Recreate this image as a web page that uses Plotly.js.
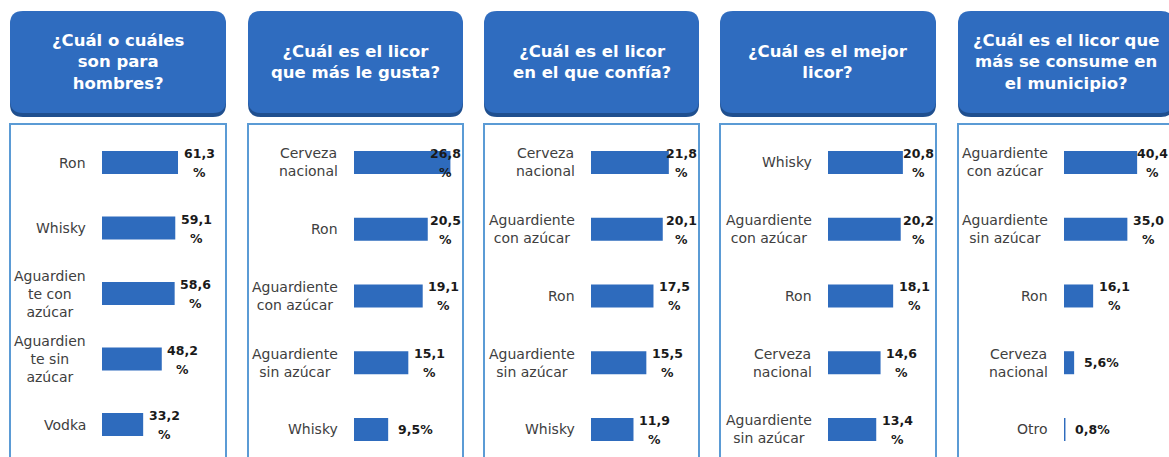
<!DOCTYPE html>
<html>
<head>
<meta charset="utf-8">
<script src="https://cdn.plot.ly/plotly-3.0.1.min.js"></script>
<style>html,body{margin:0;padding:0;background:#fff;}#chart{width:1169px;height:457px;}</style>
</head>
<body>
<div id="chart"></div>
<script>
// ---- data ----
const titles = [
  "¿Cuál o cuáles<br>son para<br>hombres?",
  "¿Cuál es el licor<br>que más le gusta?",
  "¿Cuál es el licor<br>en el que confía?",
  "¿Cuál es el mejor<br>licor?",
  "¿Cuál es el licor que<br>más se consume en<br>el municipio?"
];
const cats1 = ["Ron", "Whisky", "Aguardien<br>te con<br>azúcar", "Aguardien<br>te sin<br>azúcar", "Vodka"];
const vals1 = [61.3, 59.1, 58.6, 48.2, 33.2];
const cats2 = ["Cerveza<br>nacional", "Ron", "Aguardiente<br>con azúcar", "Aguardiente<br>sin azúcar", "Whisky"];
const vals2 = [26.8, 20.5, 19.1, 15.1, 9.5];
const cats3 = ["Cerveza<br>nacional", "Aguardiente<br>con azúcar", "Ron", "Aguardiente<br>sin azúcar", "Whisky"];
const vals3 = [21.8, 20.1, 17.5, 15.5, 11.9];
const cats4 = ["Whisky", "Aguardiente<br>con azúcar", "Ron", "Cerveza<br>nacional", "Aguardiente<br>sin azúcar"];
const vals4 = [20.8, 20.2, 18.1, 14.6, 13.4];
const cats5 = ["Aguardiente<br>con azúcar", "Aguardiente<br>sin azúcar", "Ron", "Cerveza<br>nacional", "Otro"];
const vals5 = [40.4, 35.0, 16.1, 5.6, 0.8];

const allCats = [cats1, cats2, cats3, cats4, cats5];
const allVals = [vals1, vals2, vals3, vals4, vals5];

// ---- geometry (pixels) ----
const W = 1169, H = 457;
const X = px => px / W;
const Y = py => (H - py) / H;
const geo = [
  {left: 10,  right: 226,  barL: 102,  xmax: 100,   top: 129.75, pitch: 65.5},
  {left: 248, right: 463,  barL: 354,  xmax: 30.3,  top: 129.1,  pitch: 66.75},
  {left: 484, right: 699,  barL: 591,  xmax: 30.25, top: 129.1,  pitch: 66.75},
  {left: 720, right: 936,  barL: 828,  xmax: 30,    top: 129.1,  pitch: 66.75},
  {left: 958, right: 1174, barL: 1064, xmax: 58,    top: 129.1,  pitch: 66.75}
];
const BLUE = "#2e6bbd";
const fmt = v => v.toFixed(1).replace(".", ",");

const data = [];
const layout = {
  width: W, height: H,
  margin: {l: 0, r: 0, t: 0, b: 0},
  paper_bgcolor: "#ffffff", plot_bgcolor: "rgba(0,0,0,0)",
  showlegend: false,
  shapes: [], annotations: []
};

function rrPath(x0, y0, x1, y1, r) {
  return "M" + X(x0 + r) + "," + Y(y0) +
    " L" + X(x1 - r) + "," + Y(y0) +
    " Q" + X(x1) + "," + Y(y0) + " " + X(x1) + "," + Y(y0 + r) +
    " L" + X(x1) + "," + Y(y1 - r) +
    " Q" + X(x1) + "," + Y(y1) + " " + X(x1 - r) + "," + Y(y1) +
    " L" + X(x0 + r) + "," + Y(y1) +
    " Q" + X(x0) + "," + Y(y1) + " " + X(x0) + "," + Y(y1 - r) +
    " L" + X(x0) + "," + Y(y0 + r) +
    " Q" + X(x0) + "," + Y(y0) + " " + X(x0 + r) + "," + Y(y0) + " Z";
}

geo.forEach((g, i) => {
  const n = i + 1;
  const xa = n === 1 ? "x" : "x" + n;
  const ya = n === 1 ? "y" : "y" + n;
  const xk = n === 1 ? "xaxis" : "xaxis" + n;
  const yk = n === 1 ? "yaxis" : "yaxis" + n;
  const cats = allCats[i], vals = allVals[i];
  const domR = Math.min(g.right, W);
  const scale = (domR - g.barL) / g.xmax;
  const yBottomIdx = -0.5 + (H - g.top) / g.pitch;

  layout[xk] = {domain: [X(g.barL), X(domR)], range: [0, g.xmax], anchor: ya,
    showgrid: false, zeroline: false, showticklabels: false, showline: false, ticks: "", fixedrange: true};
  layout[yk] = {domain: [0, Y(g.top)], type: "category", categoryorder: "array", categoryarray: cats,
    range: [yBottomIdx, -0.5], anchor: xa,
    showgrid: false, zeroline: false, showticklabels: false, showline: false, ticks: "", fixedrange: true};

  data.push({
    type: "bar", orientation: "h", x: vals, y: cats, xaxis: xa, yaxis: ya,
    width: 23 / g.pitch, marker: {color: BLUE, line: {width: 0}}, hoverinfo: "skip"
  });

  // header box with darker bottom edge
  layout.shapes.push({type: "path", xref: "paper", yref: "paper", layer: "below",
    path: rrPath(g.left, 13, g.right, 117, 13), fillcolor: "#1f4f8f", line: {width: 0}});
  layout.shapes.push({type: "path", xref: "paper", yref: "paper", layer: "below",
    path: rrPath(g.left, 11, g.right, 113, 13), fillcolor: "#2f6cbf", line: {width: 0}});
  // body frame
  layout.shapes.push({type: "rect", xref: "paper", yref: "paper", layer: "below",
    x0: X(g.left), x1: X(g.right), y0: Y(124), y1: Y(480),
    fillcolor: "rgba(0,0,0,0)", line: {color: "#5b9bd5", width: 2}});

  // header title
  layout.annotations.push({xref: "paper", yref: "paper", x: X((g.left + g.right) / 2), y: Y(62),
    xanchor: "center", yanchor: "middle", align: "center", showarrow: false, text: titles[i],
    font: {family: "DejaVu Sans", size: 16.5, color: "#ffffff", weight: "bold"}});

  const capRight = Math.min(g.right - 4, W - 3);
  cats.forEach((c, k) => {
    const v = vals[k];
    // category label
    layout.annotations.push({xref: xa + " domain", yref: ya, x: 0, y: c, xanchor: "right", yanchor: "middle",
      xshift: -14, align: "center", showarrow: false, text: c,
      font: {family: "DejaVu Sans", size: 14, color: "#404040"}});
    const endPx = g.barL + v * scale;
    const vfont = {family: "DejaVu Sans", size: 12.5, color: "#1a1a1a", weight: "bold"};
    if (v < 10) {
      layout.annotations.push({xref: xa, yref: ya, x: v, y: c, xanchor: "left", yanchor: "middle",
        xshift: 8, showarrow: false, text: fmt(v) + "%", font: vfont});
    } else {
      const capped = endPx + 36 > capRight;
      const base = capped
        ? {xref: xa + " domain", x: 1, xshift: (capRight - domR) - 14}
        : {xref: xa, x: v, xshift: 21};
      layout.annotations.push(Object.assign({}, base, {yref: ya, y: c, xanchor: "center", yanchor: "middle",
        yshift: 9, showarrow: false, text: fmt(v), font: vfont}));
      layout.annotations.push(Object.assign({}, base, {yref: ya, y: c, xanchor: "center", yanchor: "middle",
        yshift: -10, showarrow: false, text: "%", font: vfont}));
    }
  });
});

Plotly.newPlot("chart", data, layout, {displayModeBar: false, staticPlot: true});
</script>
</body>
</html>
